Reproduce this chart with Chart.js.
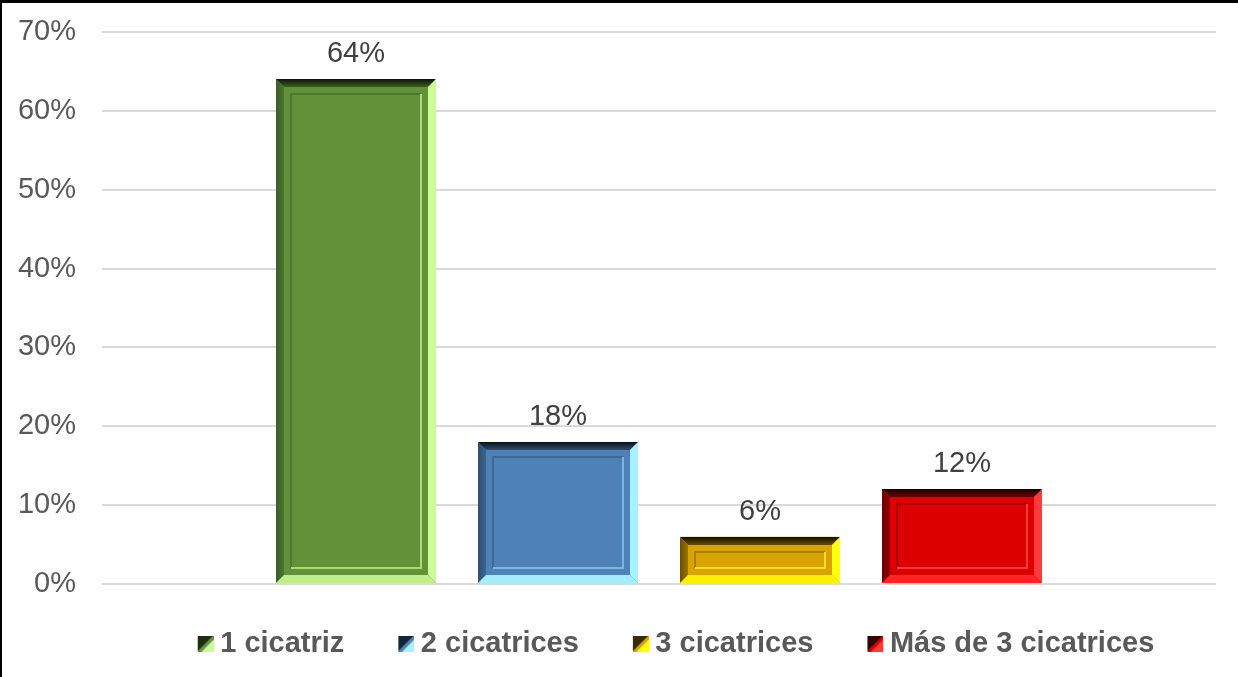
<!DOCTYPE html>
<html><head><meta charset="utf-8">
<script src="https://cdn.jsdelivr.net/npm/chart.js@4.4.0/dist/chart.umd.min.js"></script>
<style>
html,body{margin:0;padding:0;background:#fff;overflow:hidden}
#wrap{position:relative;width:1238px;height:677px}
#frame{position:absolute;left:0;top:0;width:1238px;height:677px;box-sizing:border-box;border-top:3px solid #000;border-left:2px solid #000;pointer-events:none}
</style></head>
<body><div id="wrap"><canvas id="c" width="1238" height="677"></canvas><div id="frame"></div></div>
<script>
const categories = [''];
const seriesNames = ['1 cicatriz', '2 cicatrices', '3 cicatrices', 'Más de 3 cicatrices'];
const seriesValues = [0.64, 0.18, 0.06, 0.12];
const yTickValues = [0, 0.1, 0.2, 0.3, 0.4, 0.5, 0.6, 0.7];
const yTickLabels = ['0%', '10%', '20%', '30%', '40%', '50%', '60%', '70%'];
const dataLabels = ['64%', '18%', '6%', '12%'];

const palette = [
  {face:'#629139', topA:'#0b1405', topB:'#3b5f22', left:'#4a7430', right:'#cdfb95', bottom:'#c0ee86', lineDark:'#4c7a2c', lineLight:'#a9dc6e', icoDark:'#1c3010'},
  {face:'#4f81b9', topA:'#081018', topB:'#2c4f72', left:'#3b6690', right:'#a4f4ff', bottom:'#a2eeff', lineDark:'#3c6995', lineLight:'#7cb4e2', icoDark:'#12263a'},
  {face:'#d9a300', topA:'#140e00', topB:'#6a4f00', left:'#9c7500', right:'#ffff10', bottom:'#fff000', lineDark:'#a97f00', lineLight:'#ffd830', icoDark:'#3a2c00'},
  {face:'#dc0000', topA:'#1a0000', topB:'#6e0000', left:'#8e0000', right:'#ff3c3c', bottom:'#ff2424', lineDark:'#ad0000', lineLight:'#ff3c3c', icoDark:'#3a0000'}
];

// 32px-wide icon: the visible 16px square sits in the right half
function makeIcon(p){
  const cv = document.createElement('canvas'); cv.width = 32; cv.height = 16;
  const g = cv.getContext('2d');
  g.translate(16, 0);
  g.fillStyle = p.right; g.fillRect(0,0,16,16);
  g.fillStyle = p.icoDark; g.beginPath(); g.moveTo(0,0); g.lineTo(16,0); g.lineTo(0,16); g.closePath(); g.fill();
  g.fillStyle = p.face; g.beginPath(); g.moveTo(0,16); g.lineTo(16,0); g.lineTo(16,4); g.lineTo(4,16); g.closePath(); g.fill();
  return cv;
}
const icons = palette.map(makeIcon);

function poly(ctx, pts, fill){
  ctx.beginPath(); ctx.moveTo(pts[0][0], pts[0][1]);
  for (let i = 1; i < pts.length; i++) ctx.lineTo(pts[i][0], pts[i][1]);
  ctx.closePath(); ctx.fillStyle = fill; ctx.fill();
}

const bevelPlugin = {
  id: 'bevel',
  afterInit(chart){
    const lg = chart.legend;
    const f = lg.fit.bind(lg);
    lg.fit = function(){ f(); this.height = 93; };
  },
  afterLayout(chart){
    const lg = chart.legend;
    lg.left = 120; lg.right = 1224;
    lg.top -= 1; lg.bottom -= 1;
  },
  afterDatasetsDraw(chart){
    const ctx = chart.ctx;
    chart.data.datasets.forEach((ds, di) => {
      const p = palette[di];
      chart.getDatasetMeta(di).data.forEach(el => {
        const {x, y, base, width} = el.getProps(['x','y','base','width'], true);
        const L = Math.round(x - width/2), R = Math.round(x + width/2), T = Math.round(y), B = Math.round(base);
        const b = 8;
        ctx.save();
        ctx.fillStyle = p.face; ctx.fillRect(L, T, R-L, B-T);
        const gt = ctx.createLinearGradient(0, T, 0, T+b);
        gt.addColorStop(0, p.topA); gt.addColorStop(1, p.topB);
        poly(ctx, [[L,T],[R,T],[R-b,T+b],[L+b,T+b]], gt);
        const gl = ctx.createLinearGradient(L, 0, L+b, 0);
        gl.addColorStop(0, p.topB); gl.addColorStop(1, p.left);
        poly(ctx, [[L,T],[L+b,T+b],[L+b,B-b],[L,B]], gl);
        poly(ctx, [[R,T],[R,B],[R-b,B-b],[R-b,T+b]], p.right);
        poly(ctx, [[L,B],[L+b,B-b],[R-b,B-b],[R,B]], p.bottom);
        const ins = 15;
        if (B - T > 2*ins + 4) {
          ctx.lineWidth = 2;
          ctx.strokeStyle = p.lineDark;
          ctx.beginPath(); ctx.moveTo(L+ins, B-ins); ctx.lineTo(L+ins, T+ins); ctx.lineTo(R-ins, T+ins); ctx.stroke();
          ctx.strokeStyle = p.lineLight;
          ctx.beginPath(); ctx.moveTo(R-ins, T+ins); ctx.lineTo(R-ins, B-ins); ctx.lineTo(L+ins, B-ins); ctx.stroke();
        }
        ctx.restore();
        ctx.save();
        ctx.font = '29px "Liberation Sans", Arial, sans-serif';
        ctx.fillStyle = '#404040';
        ctx.textAlign = 'center';
        ctx.textBaseline = 'alphabetic';
        ctx.fillText(dataLabels[di], x, T - 17);
        ctx.restore();
      });
    });
  }
};

new Chart(document.getElementById('c'), {
  type: 'bar',
  data: {
    labels: categories,
    datasets: seriesNames.map((n, i) => ({
      label: n,
      data: [seriesValues[i]],
      backgroundColor: palette[i].face,
      borderWidth: 0,
      categoryPercentage: 0.7253,
      barPercentage: 0.792
    }))
  },
  options: {
    responsive: false,
    animation: false,
    devicePixelRatio: 1,
    layout: {padding: {left: 0, right: 22, top: 32, bottom: 0}},
    scales: {
      x: {display: false},
      y: {
        min: 0, max: 0.7,
        afterFit(s){ s.width = 102; s.paddingTop = 0; s.paddingBottom = 0; },
        afterBuildTicks(s){ s.ticks = yTickValues.map(v => ({value: v})); },
        border: {display: false},
        grid: {color: '#d9d9d9', lineWidth: 2, drawTicks: false},
        ticks: {
          padding: 26,
          color: '#595959',
          font: {family: '"Liberation Sans", Arial, sans-serif', size: 29},
          callback: (v, i) => yTickLabels[i]
        }
      }
    },
    plugins: {
      tooltip: {enabled: false},
      legend: {
        position: 'bottom',
        labels: {
          usePointStyle: true,
          boxWidth: 16, boxHeight: 16,
          padding: 46,
          color: '#595959',
          font: {family: '"Liberation Sans", Arial, sans-serif', size: 29, weight: 'bold'},
          generateLabels(chart){
            return chart.data.datasets.map((ds, i) => ({
              text: ds.label, fillStyle: palette[i].face, strokeStyle: palette[i].face,
              lineWidth: 0, pointStyle: icons[i], hidden: false, datasetIndex: i, fontColor: '#595959'
            }));
          }
        }
      }
    }
  },
  plugins: [bevelPlugin]
});
</script>
</body></html>
